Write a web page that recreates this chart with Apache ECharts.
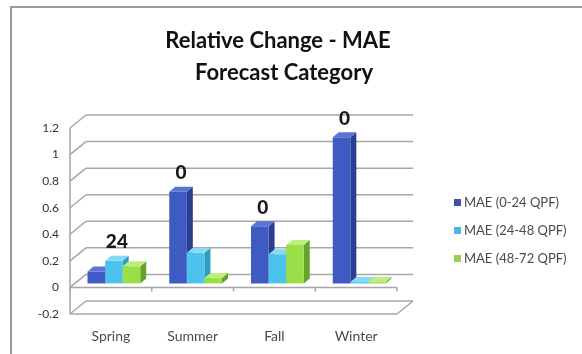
<!DOCTYPE html>
<html>
<head>
<meta charset="utf-8">
<script src="https://cdn.jsdelivr.net/npm/echarts@6/dist/echarts.min.js"></script>
<style>
  html, body { margin: 0; padding: 0; background: #ffffff; }
  #chart { width: 582px; height: 354px; }
</style>
</head>
<body>
<div id="chart"></div>
<script>
// Seasons on the category axis
const categories = ['Spring', 'Summer', 'Fall', 'Winter'];
// Series names (legend entries)
const seriesNames = ['MAE (0-24 QPF)', 'MAE (24-48 QPF)', 'MAE (48-72 QPF)'];
// Relative change in MAE per season for each forecast window
const mae0to24 = [0.09, 0.69, 0.43, 1.10];
const mae24to48 = [0.17, 0.23, 0.22, 0.01];
const mae48to72 = [0.13, 0.04, 0.29, 0.01];
// Text shown above the tallest column of each season
const peakLabels = ['24', '0', '0', '0'];
// Value axis range and step
const yMin = -0.2;
const yMax = 1.2;
const yStep = 0.2;

const seriesValues = [mae0to24, mae24to48, mae48to72];

const FONT = 'Lato, "Open Sans", "Noto Sans", sans-serif';

// Face colours for each column series: front, side, top, legend swatch
const palette = [
  { front: '#3f5bc2', side: '#2b3f90', top: '#5a74d4', legend: '#3f51a8' },
  { front: '#4cc3ec', side: '#2d9bc2', top: '#86daf5', legend: '#4fb8e2' },
  { front: '#9adf48', side: '#67a22c', top: '#bdee80', legend: '#94d152' }
];

// 3D offsets in pixels
const BACK = [16, -13];   // back wall relative to the front plane
const PLANE = [6, -4];    // column front faces relative to the front plane
const DEPTH = [6, -5];    // thickness of each column

const frameColor = '#a6a6a6';

function line(x1, y1, x2, y2) {
  return {
    type: 'line',
    shape: { x1: x1, y1: y1, x2: x2, y2: y2 },
    style: { stroke: frameColor, lineWidth: 1.5 }
  };
}

// Walls, floor and gridlines of the 3D frame
function renderFrame(params, api) {
  const v = api.value(1);
  const band = api.size([1, 0])[0];
  const first = api.coord([0, v]);
  const last = api.coord([categories.length - 1, v]);
  const left = first[0] - band / 2;
  const right = last[0] + band / 2;
  const y = first[1];
  const children = [
    line(left, y, left + BACK[0], y + BACK[1]),
    line(left + BACK[0], y + BACK[1], right + BACK[0], y + BACK[1])
  ];
  if (Math.abs(v - yMin) < 1e-9) {
    children.push(line(left, y, right, y));
    children.push(line(right, y, right + BACK[0], y + BACK[1]));
    const topY = api.coord([0, yMax])[1];
    children.push(line(left, topY, left, y));
  }
  if (Math.abs(v) < 1e-9) {
    children.push(line(left, y, right, y));
    for (let i = 0; i <= categories.length; i++) {
      const tx = left + i * band;
      children.push(line(tx, y, tx, y + 4));
    }
  }
  return { type: 'group', children: children };
}

function barGeometry(api, catIndex, seriesIndex, value) {
  const band = api.size([1, 0])[0];
  const barW = band * 0.215;
  const base = api.coord([catIndex, 0]);
  const top = api.coord([catIndex, value]);
  const groupStart = base[0] + PLANE[0] - (3 * barW + DEPTH[0]) / 2;
  const x0 = groupStart + seriesIndex * barW;
  return {
    x0: x0,
    x1: x0 + barW,
    yb: base[1] + PLANE[1],
    yt: top[1] + PLANE[1]
  };
}

function makeColumnRenderer(seriesIndex) {
  const c = palette[seriesIndex];
  return function (params, api) {
    const catIndex = api.value(0);
    const value = api.value(1);
    const g = barGeometry(api, catIndex, seriesIndex, value);
    const dx = DEPTH[0], dy = DEPTH[1];
    return {
      type: 'group',
      children: [
        {
          type: 'polygon',
          shape: { points: [[g.x1, g.yb], [g.x1, g.yt], [g.x1 + dx, g.yt + dy], [g.x1 + dx, g.yb + dy]] },
          style: { fill: c.side }
        },
        {
          type: 'rect',
          shape: { x: g.x0, y: g.yt, width: g.x1 - g.x0, height: g.yb - g.yt },
          style: { fill: c.front }
        },
        {
          type: 'polygon',
          shape: { points: [[g.x0, g.yt], [g.x1, g.yt], [g.x1 + dx, g.yt + dy], [g.x0 + dx, g.yt + dy]] },
          style: { fill: c.top }
        }
      ]
    };
  };
}

// Label above the tallest column in each season
function renderPeakLabel(params, api) {
  const catIndex = api.value(0);
  let best = 0;
  for (let s = 1; s < seriesValues.length; s++) {
    if (seriesValues[s][catIndex] > seriesValues[best][catIndex]) best = s;
  }
  const value = seriesValues[best][catIndex];
  const g = barGeometry(api, catIndex, best, value);
  return {
    type: 'text',
    x: (g.x0 + g.x1) / 2 + DEPTH[0] / 2,
    y: g.yt + DEPTH[1] - 4,
    style: {
      text: peakLabels[catIndex],
      fill: '#1a1a1a',
      font: '900 19px ' + FONT,
      textAlign: 'center',
      textVerticalAlign: 'bottom'
    }
  };
}

const yTickValues = [];
for (let i = 0; Math.round(yMin / yStep) + i <= Math.round(yMax / yStep); i++) {
  yTickValues.push(+(yMin + i * yStep).toFixed(2));
}

const chart = echarts.init(document.getElementById('chart'), null, { renderer: 'canvas' });

const series = [
  {
    name: '__frame',
    type: 'custom',
    renderItem: renderFrame,
    data: yTickValues.map(function (v) { return [0, v]; }),
    encode: { x: 0, y: 1 },
    z: 1,
    silent: true
  }
];
seriesValues.forEach(function (vals, s) {
  series.push({
    name: seriesNames[s],
    type: 'custom',
    renderItem: makeColumnRenderer(s),
    data: vals.map(function (v, i) { return [i, v]; }),
    encode: { x: 0, y: 1 },
    itemStyle: { color: palette[s].legend },
    z: 2 + s
  });
});
series.push({
  name: '__labels',
  type: 'custom',
  renderItem: renderPeakLabel,
  data: categories.map(function (c, i) { return [i, 0]; }),
  encode: { x: 0, y: 1 },
  z: 10,
  silent: true
});

chart.setOption({
  animation: false,
  backgroundColor: '#ffffff',
  graphic: [
    { type: 'line', shape: { x1: 10, y1: 7, x2: 582, y2: 7 }, style: { stroke: '#9a9a9a', lineWidth: 2 } },
    { type: 'line', shape: { x1: 11, y1: 6, x2: 11, y2: 354 }, style: { stroke: '#9a9a9a', lineWidth: 2 } },
    {
      type: 'text', x: 278, y: 41,
      style: { text: 'Relative Change - MAE', font: 'bold 22px ' + FONT, fill: '#111111', textAlign: 'center', textVerticalAlign: 'middle' }
    },
    {
      type: 'text', x: 284, y: 73,
      style: { text: 'Forecast Category', font: 'bold 22px ' + FONT, fill: '#111111', textAlign: 'center', textVerticalAlign: 'middle' }
    }
  ],
  legend: {
    data: seriesNames,
    orient: 'vertical',
    left: 449,
    top: 191,
    itemWidth: 7,
    itemHeight: 7,
    itemGap: 15,
    icon: 'rect',
    textStyle: { fontFamily: FONT, fontSize: 13, color: '#4a4a4a', padding: [0, 0, 0, -2] }
  },
  grid: { left: 70, right: 185, top: 128, bottom: 40, containLabel: false },
  xAxis: {
    type: 'category',
    data: categories,
    axisLine: { show: false },
    axisTick: { show: false },
    splitLine: { show: false },
    axisLabel: { margin: 15, fontFamily: FONT, fontSize: 14, color: '#4a4a4a' }
  },
  yAxis: {
    type: 'value',
    min: yMin,
    max: yMax,
    interval: yStep,
    axisLine: { show: false },
    axisTick: { show: false },
    splitLine: { show: false },
    axisLabel: { margin: 11, fontFamily: FONT, fontSize: 12, color: '#333333' }
  },
  series: series
});
</script>
</body>
</html>
